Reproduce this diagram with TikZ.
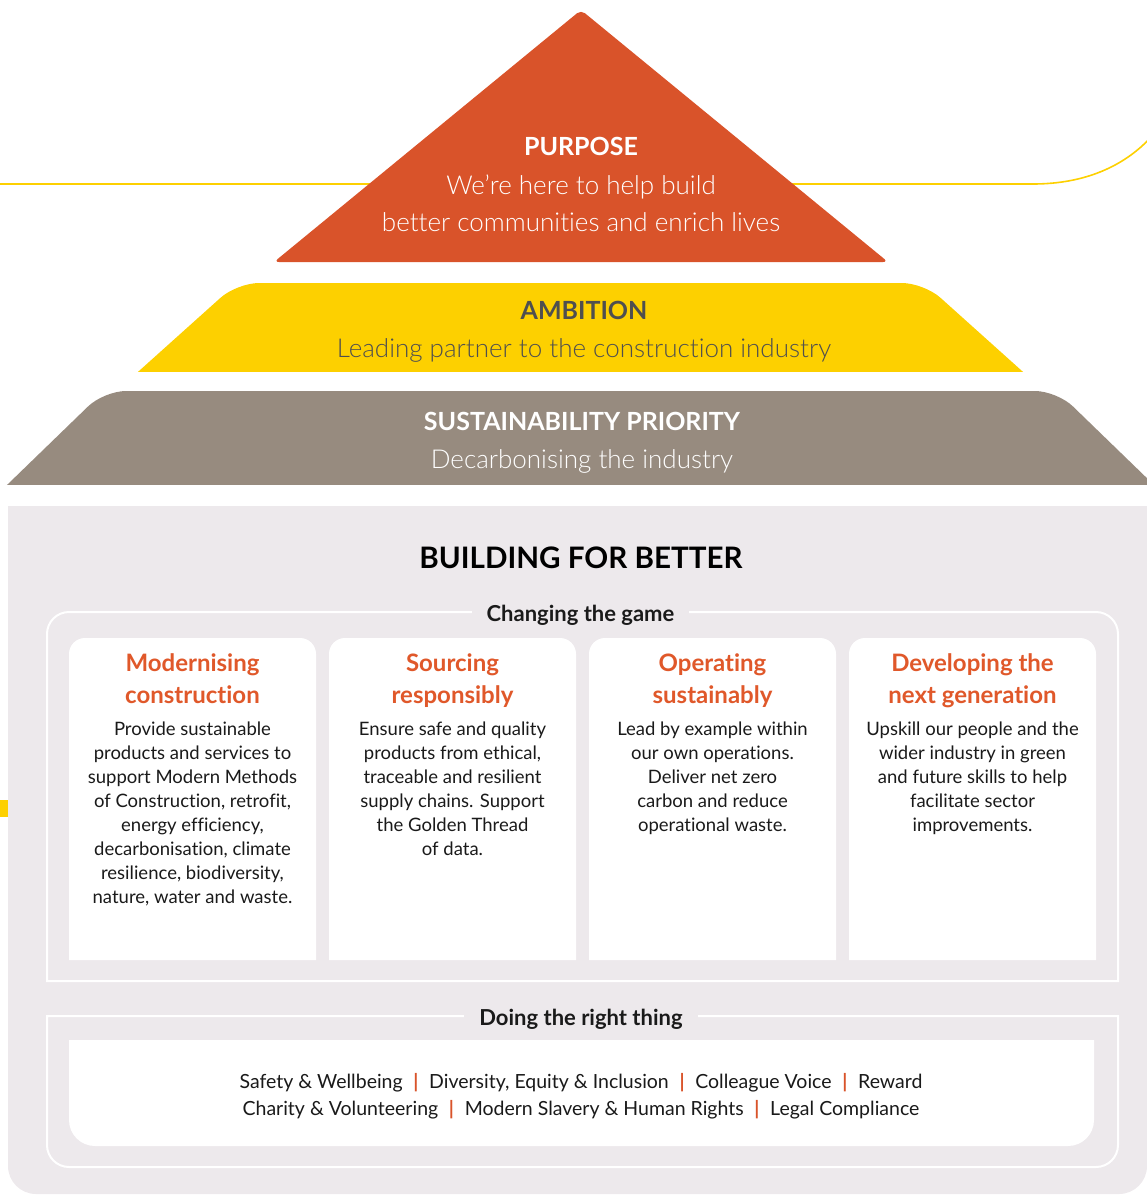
\documentclass[tikz,border=0pt]{standalone}
\usepackage{fontspec}
\setmainfont{Lato}[Ligatures=NoCommon]
\newfontfamily\lightfont{Lato Light}[Ligatures=NoCommon]
\definecolor{orng}{HTML}{D9532A}
\definecolor{tor}{HTML}{E0582A}
\definecolor{ylw}{HTML}{FDD000}
\definecolor{taupe}{HTML}{978B7F}
\definecolor{bgc}{HTML}{EDE9EC}
\definecolor{dgrey}{HTML}{4F4F4F}
\definecolor{ink}{HTML}{1A1A1A}
\tikzset{
  frameline/.style={draw=white, line width=2pt},
  pyrtitle/.style={anchor=base, inner sep=0pt, font=\bfseries\fontsize{25}{30}\selectfont},
  pyrtext/.style={anchor=base, inner sep=0pt, align=center, font=\lightfont\fontsize{26}{37}\selectfont},
  cardtitle/.style={anchor=base, inner sep=0pt, align=center, text=tor, font=\bfseries\fontsize{24}{32}\selectfont},
  cardbody/.style={anchor=base, inner sep=0pt, align=center, text=ink, font=\fontsize{18.5}{24}\selectfont},
  framelabel/.style={anchor=base, fill=bgc, text=ink, inner xsep=15pt, font=\bfseries\fontsize{22}{26}\selectfont},
  listtext/.style={anchor=base, inner sep=0pt, align=center, text=ink, font=\fontsize{19.5}{27}\selectfont},
}
\newcommand{\sepbar}{\hspace{0.55em}{\color{orng}\bfseries|}\hspace{0.55em}}
\begin{document}
\begin{tikzpicture}[x=1pt,y=-1pt]
\useasboundingbox (0,0) rectangle (1147,1196);
% yellow guide line
\draw[ylw, line width=1.6pt] (0,184) -- (1033,184) .. controls (1085,184) and (1125,166) .. (1152,136);
\fill[ylw] (0,800) rectangle (10,817);
% purpose triangle
\fill[orng, rounded corners=5pt] (581,10) -- (888,262) -- (274,262) -- cycle;
% ambition trapezoid
\begin{scope}
  \clip (0,270) rectangle (1147,371);
  \fill[ylw, rounded corners=22pt] (83.3,421) -- (237,283) -- (924,283) -- (1077.7,421) -- cycle;
\end{scope}
% sustainability trapezoid
\begin{scope}
  \clip (0,380) rectangle (1147,484);
  \fill[taupe, rounded corners=22pt] (-43.6,534) -- (104,391) -- (1057,391) -- (1204.6,534) -- cycle;
\end{scope}
% (multi-line nodes: base anchor = baseline of last line)
\node[pyrtitle, text=white] (purpose) at (581,155.5) {PURPOSE};
\node[pyrtext, text=white] (purposetxt) at (581,231) {We’re here to help build\\better communities and enrich lives};
\node[pyrtitle, text=dgrey] (ambition) at (584,319) {AMBITION};
\node[pyrtext, text=dgrey] (ambitiontxt) at (584,357) {Leading partner to the construction industry};
\node[pyrtitle, text=white] (priority) at (582,430) {SUSTAINABILITY PRIORITY};
\node[pyrtext, text=white] (prioritytxt) at (582,468) {Decarbonising the industry};
% building for better panel
\fill[bgc] (8,506) rectangle (1147,560);
\fill[bgc, rounded corners=28pt] (8,506) rectangle (1147,1194);
\node[anchor=base, inner sep=0pt, text=black, font=\bfseries\fontsize{29.6}{34}\selectfont] (bfb) at (581,568) {BUILDING FOR BETTER};
% changing the game frame
\draw[frameline] (47,981) -- (47,634) arc(180:270:22) -- (1096,612) arc(270:360:22) -- (1118,981) -- cycle;
\node[framelabel] (cgame) at (580.5,621) {Changing the game};
% cards
\foreach \x in {69,329,589,849}{
  \fill[white] (\x,960) -- (\x,654) arc(180:270:16) -- (\x+231,638) arc(270:360:16) -- (\x+247,960) -- cycle;
}
\node[cardtitle] (t1) at (192.5,703) {Modernising\\construction};
\node[cardtitle] (t2) at (452.5,703) {Sourcing\\responsibly};
\node[cardtitle] (t3) at (712.5,703) {Operating\\sustainably};
\node[cardtitle] (t4) at (972.5,703) {Developing the\\next generation};
\node[cardbody] (b1) at (192.5,903) {Provide sustainable\\products and services to\\support Modern Methods\\of Construction, retrofit,\\energy efficiency,\\decarbonisation, climate\\resilience, biodiversity,\\nature, water and waste.};
\node[cardbody] (b2) at (452.5,855) {Ensure safe and quality\\products from ethical,\\traceable and resilient\\supply chains. Support\\the Golden Thread\\of data.};
\node[cardbody] (b3) at (712.5,831) {Lead by example within\\our own operations.\\Deliver net zero\\carbon and reduce\\operational waste.};
\node[cardbody] (b4) at (972.5,831) {Upskill our people and the\\wider industry in green\\and future skills to help\\facilitate sector\\improvements.};
% doing the right thing frame
\draw[frameline] (47,1016) -- (47,1145) arc(180:90:22) -- (1096,1167) arc(90:0:22) -- (1118,1016) -- cycle;
\node[framelabel] (drt) at (581,1025) {Doing the right thing};
\fill[white] (69,1040) -- (69,1120) arc(180:90:26) -- (1068,1146) arc(90:0:26) -- (1094,1040) -- cycle;
\node[listtext] (list) at (581,1115) {Safety \& Wellbeing\sepbar Diversity, Equity \& Inclusion\sepbar Colleague Voice\sepbar Reward\\Charity \& Volunteering\sepbar Modern Slavery \& Human Rights\sepbar Legal Compliance};
\end{tikzpicture}
\end{document}
